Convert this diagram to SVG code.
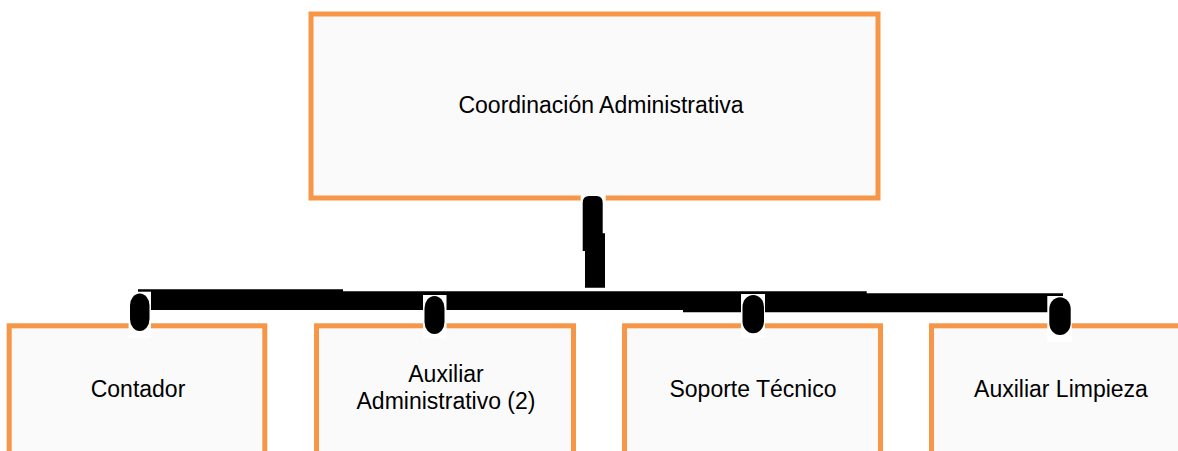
<svg xmlns="http://www.w3.org/2000/svg" width="1178" height="451" viewBox="0 0 1178 451">
  <style>
    .box { fill: #fafafa; stroke: #f79646; stroke-width: 5; }
    .lbl { font-family: "Liberation Sans", Arial, sans-serif; font-size: 23px; fill: #000; text-anchor: middle; }
    .gap { fill: #ffffff; }
    .ink { fill: #000000; }
  </style>
  <rect width="1178" height="451" fill="#ffffff"/>

  <g id="node-coordinacion">
    <rect class="box" x="311" y="14" width="567" height="184"/>
    <text class="lbl" x="601" y="112.7">Coordinación Administrativa</text>
  </g>

  <g id="node-contador">
    <rect class="box" x="9.2" y="325.8" width="255.6" height="140"/>
    <text class="lbl" x="138" y="397">Contador</text>
  </g>

  <g id="node-auxiliar-administrativo">
    <rect class="box" x="316.5" y="325.8" width="257" height="140"/>
    <text class="lbl" x="446" y="381.7">Auxiliar</text>
    <text class="lbl" x="446" y="409">Administrativo (2)</text>
  </g>

  <g id="node-soporte-tecnico">
    <rect class="box" x="624.5" y="325.8" width="256" height="140"/>
    <text class="lbl" x="753" y="397">Soporte Técnico</text>
  </g>

  <g id="node-auxiliar-limpieza">
    <rect class="box" x="931.5" y="325.8" width="256" height="140"/>
    <text class="lbl" x="1061" y="397">Auxiliar Limpieza</text>
  </g>

  <g id="connectors">
    <!-- trunk from top box -->
    <rect class="gap" x="580.7" y="195" width="25" height="8"/>
    <path class="ink" d="M582.7,203 Q582.7,196 589,196 H596.5 Q602.7,196 602.7,203 V233.3 H605 V287.7 H585 V251 H582.7 Z"/>
    <!-- horizontal bus -->
    <path class="ink" d="M138,289.3 H343 V291.3 H866.7 V293.3 H1063 V312.3 H683 V310 H138 Z"/>
    <!-- drop connectors -->
    <rect class="gap" x="128.6" y="291.7" width="22.4" height="46.6"/>
    <rect class="ink" x="130" y="293.5" width="19.5" height="37.5" rx="9.7" ry="12"/>
    <rect class="gap" x="423" y="295" width="23.5" height="43.3"/>
    <rect class="ink" x="424.5" y="296" width="20" height="38" rx="10" ry="12"/>
    <rect class="gap" x="741" y="294" width="24" height="43.5"/>
    <rect class="ink" x="742.5" y="295" width="21.5" height="38.3" rx="10.7" ry="12"/>
    <rect class="gap" x="1047.3" y="296" width="24.4" height="45.7"/>
    <rect class="ink" x="1049.3" y="297.3" width="21.4" height="37.7" rx="10.7" ry="12"/>
  </g>
</svg>
